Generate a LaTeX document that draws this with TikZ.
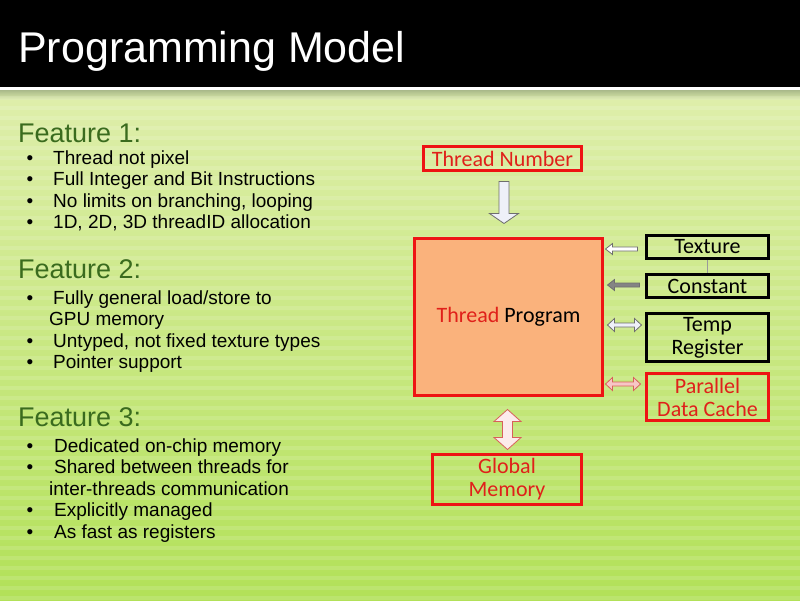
\documentclass[tikz,border=0pt]{standalone}
\usepackage{fontspec}
\setmainfont{Liberation Sans}
\newfontfamily\calfont{Carlito}
\usepackage{xcolor}
\usetikzlibrary{positioning,calc}
\definecolor{bgtop}{HTML}{DEEEAA}
\definecolor{bgbot}{HTML}{B2E158}
\definecolor{bgshade}{HTML}{A9B98A}
\definecolor{headgreen}{HTML}{3A6B1E}
\definecolor{boxred}{HTML}{EE1414}
\definecolor{txtred}{HTML}{E0201A}
\definecolor{progfill}{HTML}{FAB27C}
\definecolor{arrgrey}{HTML}{6E6E6E}
\definecolor{arrfill}{HTML}{EEF0F8}
\definecolor{pinkfill}{HTML}{F7C6C6}
\definecolor{pinkline}{HTML}{D8605A}
\newcommand{\bulletpt}[2][26.5pt]{\makebox[#1][l]{\textbullet}#2}
\tikzset{
  heading/.style={anchor=base west, inner sep=0pt, text=headgreen, font=\fontsize{27}{30}\selectfont},
  item/.style={anchor=base west, inner sep=0pt, font=\fontsize{19}{21.5}\selectfont}
}

\begin{document}
\begin{tikzpicture}[
    x=1pt, y=-1pt,
    redbox/.style={draw=boxred, line width=3pt, inner sep=0pt, align=center, text=txtred,
      font=\calfont\fontsize{22}{23}\selectfont},
    blackbox/.style={redbox, draw=black, text=black},
    blockarr/.style={draw=arrgrey, line width=0.8pt, fill=arrfill, line join=miter},
    pinkarr/.style={blockarr, draw=pinkline, fill=pinkfill}
  ]
  \useasboundingbox (0,0) rectangle (800,600);

  % slide background
  \shade[top color=bgtop, bottom color=bgbot] (0,100) rectangle (800,600);
  \shade[top color=bgshade, bottom color=bgtop] (0,90) rectangle (800,100);
  \foreach \y in {96,106,...,596}
    \fill[white, opacity=0.13] (0,\y) rectangle (800,\y+4);
  \fill[black] (0,0) rectangle (800,87);
  \fill[white] (0,87) rectangle (800,90);

  % title
  \node[anchor=base west, inner sep=0pt, text=white, font=\fontsize{43}{46}\selectfont]
    (title) at (18,62) {Programming Model};

  % feature lists
  \node[heading] (feat1) at (18,142) {Feature 1:};
  \node[item] (f1a) at (26.5,164)   {\bulletpt{Thread not pixel}};
  \node[item] (f1b) at (26.5,185.5) {\bulletpt{Full Integer and Bit Instructions}};
  \node[item] (f1c) at (26.5,207)   {\bulletpt{No limits on branching, looping}};
  \node[item] (f1d) at (26.5,228.5) {\bulletpt{1D, 2D, 3D threadID allocation}};

  \node[heading] (feat2) at (18,278) {Feature 2:};
  \node[item] (f2a) at (26.5,304)   {\bulletpt{Fully general load/store to}};
  \node[item] (f2b) at (49,325.5)   {GPU memory};
  \node[item] (f2c) at (26.5,347)   {\bulletpt{Untyped, not fixed texture types}};
  \node[item] (f2d) at (26.5,368.5) {\bulletpt{Pointer support}};

  \node[heading] (feat3) at (18,426) {Feature 3:};
  \node[item] (f3a) at (26.5,452)   {\bulletpt[27.5pt]{Dedicated on-chip memory}};
  \node[item] (f3b) at (26.5,473.5) {\bulletpt[27.5pt]{Shared between threads for}};
  \node[item] (f3c) at (49,495)     {inter-threads communication};
  \node[item] (f3d) at (26.5,516.5) {\bulletpt[27.5pt]{Explicitly managed}};
  \node[item] (f3e) at (26.5,538)   {\bulletpt[27.5pt]{As fast as registers}};

  % diagram boxes
  \node[redbox, minimum width=158, minimum height=24] (tnum) at (502.5,158.5) {Thread Number};
  \node[redbox, fill=progfill, text=black, minimum width=188, minimum height=157]
    (tprog) at (508.5,317) {{\color{txtred}Thread} Program};
  \node[blackbox, minimum width=122, minimum height=23] (tex) at (707.5,247) {Texture};
  \node[blackbox, minimum width=122, minimum height=23] (con) at (707.5,286) {Constant};
  \node[blackbox, minimum width=122, minimum height=48] (tmp) at (707.5,337.5) {Temp\\Register};
  \node[redbox, minimum width=122, minimum height=47] (pdc) at (707.5,397) {Parallel\\Data Cache};
  \node[redbox, minimum width=149, minimum height=50] (gmem) at (507,479.5) {Global\\Memory};

  % link between texture and constant
  \draw[arrgrey!70, line width=1pt] (tex.south) -- (con.north);

  % block arrows
  \draw[blockarr] ($(tnum.south)+(-3.5,9.5)$) -- ++(10,0) -- ++(0,32) -- ++(9.5,0)
    -- ++(-14.5,10) -- ++(-14.5,-10) -- ++(9.5,0) -- cycle;
  \draw[pinkarr, fill=pinkfill!35] ($(tprog.south)+(-1,12.5)$) -- ++(13.5,12) -- ++(-8.5,0)
    -- ++(0,16) -- ++(8.5,0) -- ++(-13.5,12) -- ++(-13.5,-12) -- ++(8.5,0)
    -- ++(0,-16) -- ++(-8.5,0) -- cycle;
  \draw[blockarr, fill=white] ($(tex.west)+(-7.5,0)$) -- ++(-25,0) -- ++(0,-3.5)
    -- ++(-7,5.5) -- ++(7,5.5) -- ++(0,-3.5) -- ++(25,0) -- cycle;
  \draw[blockarr, fill=arrgrey!85] ($(con.west)+(-5.5,-3)$) -- ++(-25,0) -- ++(0,-3.5)
    -- ++(-7,5.5) -- ++(7,5.5) -- ++(0,-3.5) -- ++(25,0) -- cycle;
  \draw[blockarr] ($(tmp.west)+(-37.5,-12.5)$) -- ++(7,-6.5) -- ++(0,4.5) -- ++(20,0)
    -- ++(0,-4.5) -- ++(7,6.5) -- ++(-7,6.5) -- ++(0,-4.5) -- ++(-20,0)
    -- ++(0,4.5) -- cycle;
  \draw[pinkarr] ($(pdc.west)+(-39.5,-13)$) -- ++(7,-6.5) -- ++(0,4.5) -- ++(21,0)
    -- ++(0,-4.5) -- ++(7,6.5) -- ++(-7,6.5) -- ++(0,-4.5) -- ++(-21,0)
    -- ++(0,4.5) -- cycle;

\end{tikzpicture}
\end{document}
